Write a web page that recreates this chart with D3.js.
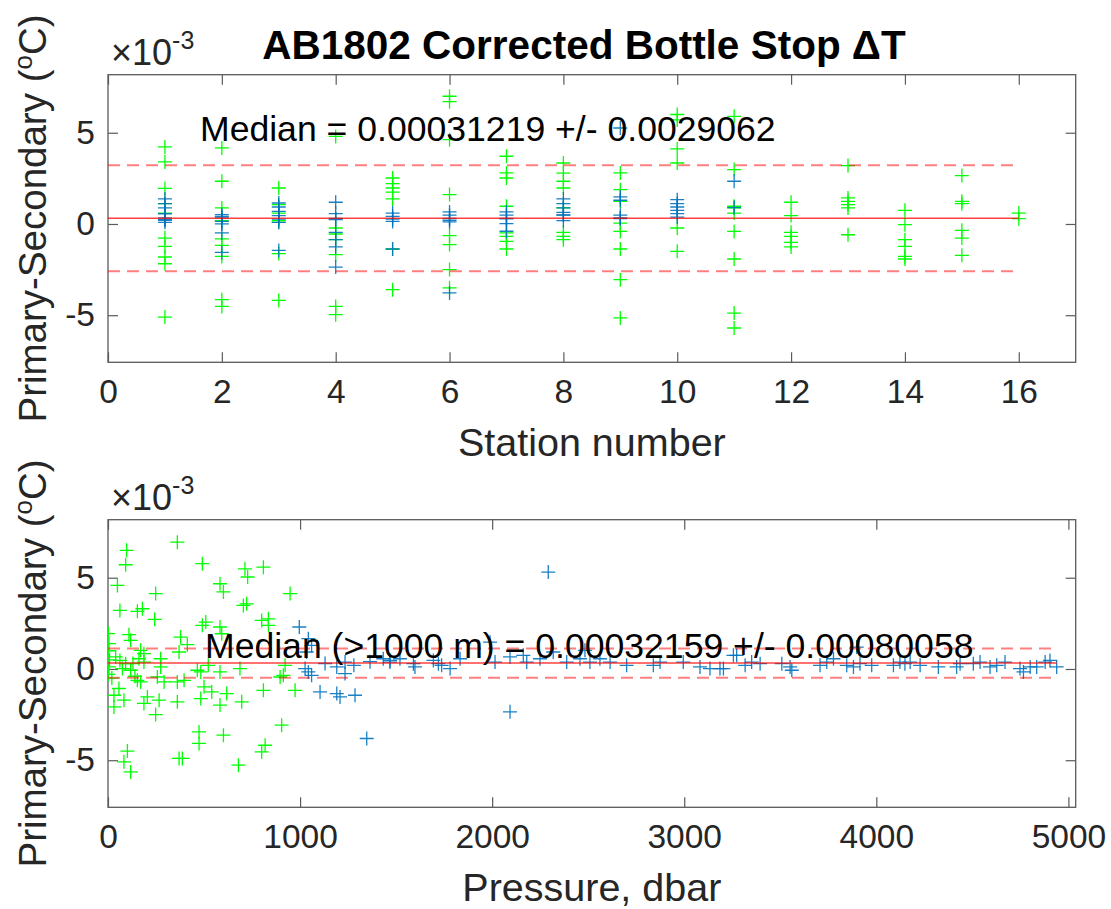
<!DOCTYPE html>
<html><head><meta charset="utf-8">
<script src="https://cdn.jsdelivr.net/npm/d3@7"></script>
<style>
body{margin:0;background:#fff}
text{font-family:"Liberation Sans",Arial,Helvetica,sans-serif;fill:#262626}
</style>
</head><body>
<svg id="c" width="1111" height="909"></svg>
<script>
// ---------------- DATA (temperature differences in units of 1e-3 °C) ----------------
const titleText = "AB1802 Corrected Bottle Stop \u0394T";
const stationTicks = [0, 2, 4, 6, 8, 10, 12, 14, 16];
const pressureTicks = [0, 1000, 2000, 3000, 4000, 5000];
const dTTicks = [-5, 0, 5];

// Top panel: shallow (<1000 dbar) bottles, [station, dT]
const stationShallow = [
  [1,4.22],[1,3.40],[1,1.95],[1,1.11],[1,0.60],[1,-0.77],[1,-1.23],[1,-1.81],[1,-2.18],[1,-5.10],
  [2,4.17],[2,2.34],[2,0.88],[2,0.18],[2,-0.82],[2,-1.17],[2,-1.78],[2,-4.15],[2,-4.52],
  [3,1.97],[3,1.06],[3,0.60],[3,0.18],[3,0.09],[3,-1.62],[3,-4.19],
  [4,4.80],[4,-0.22],[4,-0.55],[4,-0.86],[4,-1.68],[4,-4.52],[4,-4.97],
  [5,2.52],[5,2.21],[5,1.97],[5,1.75],[5,1.37],[5,-1.37],[5,-3.60],
  [6,7.00],[6,6.70],[6,4.62],[6,1.61],[6,-0.64],[6,-1.13],[6,-2.50],[6,-3.50],
  [7,3.71],[7,2.80],[7,2.52],[7,0.97],[7,-0.49],[7,-0.68],[7,-0.95],[7,-1.37],
  [8,3.34],[8,2.79],[8,2.34],[8,1.97],[8,0.88],[8,-0.46],[8,-0.68],[8,-0.86],
  [9,2.80],[9,1.88],[9,1.24],[9,0.05],[9,-0.41],[9,-1.37],[9,-3.05],[9,-5.15],
  [10,6.00],[10,5.70],[10,4.11],[10,3.34],[10,-0.22],[10,-1.50],
  [11,5.90],[11,2.98],[11,0.97],[11,0.88],[11,0.60],[11,-0.41],[11,-1.92],[11,-4.88],[11,-5.70],
  [12,1.19],[12,0.46],[12,-0.46],[12,-0.68],[12,-1.01],[12,-1.26],
  [13,3.20],[13,1.43],[13,1.24],[13,1.06],[13,0.88],[13,-0.59],
  [14,0.75],[14,-0.04],[14,-0.86],[14,-1.23],[14,-1.78],[14,-1.92],
  [15,2.65],[15,1.24],[15,1.11],[15,-0.35],[15,-0.77],[15,-1.72],
  [16,0.60],[16,0.29]
];
// Top panel: deep (>1000 dbar) bottles, [station, dT]
const stationDeep = [
  [1,1.37],[1,1.11],[1,0.88],[1,0.56],[1,0.33],[1,0.25],[1,0.20],[1,0.09],
  [2,0.51],[2,0.42],[2,0.33],[2,0.14],[2,0.00],[2,-0.49],[2,-1.56],
  [3,1.15],[3,0.93],[3,0.69],[3,0.46],[3,0.27],[3,0.09],[3,-1.45],
  [4,1.19],[4,0.57],[4,0.30],[4,0.24],[4,-0.46],[4,-0.86],[4,-1.26],[4,-2.36],
  [5,0.60],[5,0.42],[5,0.27],[5,0.14],[5,-1.37],
  [6,0.66],[6,0.48],[6,0.30],[6,0.20],[6,0.11],[6,-3.78],
  [7,0.66],[7,0.48],[7,0.30],[7,0.29],[7,0.02],[7,-0.40],
  [8,1.37],[8,1.11],[8,0.88],[8,0.64],[8,0.50],[8,0.48],[8,0.18],
  [9,5.26],[9,1.48],[9,1.30],[9,0.48],[9,0.33],[9,0.30],
  [10,1.33],[10,1.11],[10,0.93],[10,0.75],[10,0.57],[10,0.38],
  [11,2.34],[11,0.90]
];
// Bottom panel: shallow bottles, [pressure dbar, dT]
const pressureShallow = [
  [361,6.95],[97,6.50],[92,5.71],[491,5.77],[49,4.58],[248,4.13],[62,3.21],[153,3.16],[179,3.30],
  [243,2.72],[491,2.39],[509,2.57],[2,1.94],[109,1.88],[118,1.57],[5,1.39],[378,1.75],[413,1.33],
  [170,1.02],[187,0.84],[370,0.93],[40,0.66],[62,0.47],[92,0.29],[161,0.56],[187,0.38],[274,0.56],
  [274,0.11],[5,0.11],[75,0.02],[118,-0.07],[153,-0.62],[170,-0.71],[257,-0.44],[292,-0.71],
  [361,-0.71],[396,-0.62],[465,-0.07],[483,-0.16],[500,-0.98],[57,-1.07],[31,-1.44],[83,-1.71],
  [205,-1.53],[187,-1.89],[266,-1.71],[361,-1.80],[31,-2.08],[483,-1.62],[248,-2.50],[474,-3.45],
  [474,-4.08],[101,-4.50],[83,-5.09],[118,-5.64],[370,-4.90],[387,-4.90],
  [3,1.00],[8,0.50],[2,-0.30],[20,-0.50],[130,0.30],[140,-0.40],
  [713,5.49],[809,5.58],[727,5.04],[583,4.67],[601,4.22],[948,4.13],[705,3.48],[722,3.57],
  [800,2.66],[835,2.75],[835,2.39],[583,2.30],[592,1.93],[522,0.20],[583,-0.16],[687,0.02],
  [540,-1.26],[618,-1.35],[583,-1.98],[696,-1.80],[809,-1.17],[922,0.20],[913,-0.35],[896,-0.44],
  [974,-1.17],[904,-3.08],[601,-3.63],[818,-4.18],[800,-4.54],[679,-5.27]
];
// Bottom panel: deep bottles, [pressure dbar, dT]
const pressureDeep = [
  [996,2.30],[1043,1.66],[1060,1.29],[1026,0.02],[1043,-0.16],[1060,-0.35],[1034,0.93],
  [1104,-1.26],[1191,-1.35],[1208,-1.53],[1286,-1.44],[1347,-3.81],[1234,0.38],[1234,-0.25],
  [1191,0.11],[1364,0.40],[1433,0.56],[1468,0.47],[1130,0.30],[1280,0.20],
  [1468,0.38],[1520,0.56],[1590,0.29],[1598,0.11],[1694,0.47],[1720,0.29],[1737,0.20],[1781,0.02],
  [1833,0.56],[1989,1.47],[2015,0.38],[2093,0.66],[2162,0.75],[2180,0.38],[2249,0.56],[2318,0.93],
  [2388,0.38],[2457,0.56],[2483,1.02],[2509,0.38],[2561,0.56],[2614,0.38],[2700,0.20],[2839,0.20],
  [2874,0.38],[2995,0.38],[3082,0.11],[3134,0.02],[3186,0.02],[3273,0.75],
  [2292,5.31],[2093,-2.35],
  [3204,0.02],[3256,0.75],[3317,0.20],[3351,0.38],[3395,0.29],[3508,0.29],[3551,0.11],[3560,-0.07],
  [3707,0.20],[3742,0.38],[3777,0.56],[3846,0.20],[3881,0.11],[3898,1.20],[3915,0.29],[3976,0.20],
  [4089,0.20],[4123,0.38],[4149,0.29],[4176,0.38],[4228,0.20],[4323,0.11],[4418,0.11],[4436,0.29],
  [4505,0.29],[4540,0.38],[4592,0.11],[4627,0.20],[4670,0.38],[4748,0.02],[4766,-0.16],[4801,0.11],
  [4835,0.11],[4879,0.38],[4904,0.47],[4939,0.11]
];
// Statistics (°C)
const statsAll  = {median: 0.00031219, spread: 0.0029062, xEnd: 16};
const statsDeep = {median: 0.00032159, spread: 0.00080058, xEnd: 4939};
const labelsAll  = "Median = 0.00031219 +/- 0.0029062";
const labelsDeep = "Median (>1000 m) = 0.00032159 +/- 0.00080058";

// ---------------- DRAWING ----------------
const svg = d3.select("#c");
const GREEN = "#00ff00", BLUE = "#0072BD";
const axisColor = "#5a5a5a";
const yDomain = [-7.58, 8.18];

svg.append("text").attr("x", 584).attr("y", 59).attr("text-anchor", "middle")
  .style("font-weight", "bold").style("font-size", "40.5px").style("fill", "#000").text(titleText);

function panel(cfg) {
  const {left, right, top, bottom, xDomain, xTicks, xLabel, shallow, deep, stats, label, labelPos} = cfg;
  const x = d3.scaleLinear().domain(xDomain).range([left, right]);
  const y = d3.scaleLinear().domain(yDomain).range([bottom, top]);
  const g = svg.append("g");
  const fmt = d => String(d);

  const ax = (a, tr) => {
    const s = g.append("g").attr("transform", tr).call(a);
    s.select(".domain").remove();
    s.selectAll("line").attr("stroke", axisColor).attr("stroke-width", 1.2);
    s.selectAll("text").style("font-size", "33.5px").style("fill", "#262626")
      .style("font-family", '"Liberation Sans",Arial,sans-serif');
    return s;
  };
  ax(d3.axisBottom(x).tickValues(xTicks).tickSize(-10).tickSizeOuter(0).tickPadding(17).tickFormat(fmt), `translate(0,${bottom})`);
  ax(d3.axisTop(x).tickValues(xTicks).tickSize(-10).tickSizeOuter(0).tickFormat(""), `translate(0,${top})`);
  ax(d3.axisLeft(y).tickValues(dTTicks).tickSize(-10).tickSizeOuter(0).tickPadding(13).tickFormat(fmt), `translate(${left},0)`);
  ax(d3.axisRight(y).tickValues(dTTicks).tickSize(-10).tickSizeOuter(0).tickFormat(""), `translate(${right},0)`);

  g.append("rect").attr("x", left).attr("y", top).attr("width", right - left).attr("height", bottom - top)
    .attr("fill", "none").attr("stroke", axisColor).attr("stroke-width", 1.3);

  const plus = (d) => {
    const px = x(d[0]), py = y(d[1]);
    return `M${px-7},${py}H${px+7}M${px},${py-7}V${py+7}`;
  };
  const clip = "clip" + Math.round(top);
  svg.append("clipPath").attr("id", clip).append("rect")
    .attr("x", left).attr("y", top).attr("width", right - left).attr("height", bottom - top);
  const pg = g.append("g").attr("clip-path", `url(#${clip})`);
  pg.append("g").selectAll("path").data(shallow).join("path").attr("d", plus)
    .attr("stroke", GREEN).attr("stroke-width", 1.3).attr("fill", "none");
  pg.append("g").selectAll("path").data(deep).join("path").attr("d", plus)
    .attr("stroke", BLUE).attr("stroke-width", 1.3).attr("fill", "none").attr("stroke-opacity", 0.9);

  const m = stats.median * 1000, s = stats.spread * 1000;
  const hl = (v, dash, op, w) => pg.append("line").attr("x1", x(0)).attr("x2", x(stats.xEnd))
    .attr("y1", y(v)).attr("y2", y(v)).attr("stroke", "#ff0000").attr("stroke-opacity", op)
    .attr("stroke-width", w).attr("stroke-dasharray", dash);
  hl(m, null, 0.75, 1.5);
  hl(m + s, "12,7", 0.5, 2);
  hl(m - s, "12,7", 0.5, 2);

  g.append("text").attr("x", labelPos[0]).attr("y", labelPos[1])
    .style("font-size", "35.6px").style("fill", "#000").text(label);

  // x-axis label
  g.append("text").attr("x", (left + right) / 2).attr("y", bottom + 94).attr("text-anchor", "middle")
    .style("font-size", "39.5px").text(xLabel);
  // y-axis label
  const yl = g.append("text").attr("transform", `translate(46,${(top + bottom) / 2}) rotate(-90)`)
    .attr("text-anchor", "middle").style("font-size", "38.5px");
  yl.append("tspan").text("Primary-Secondary (");
  yl.append("tspan").attr("dy", -14).style("font-size", "26px").text("o");
  yl.append("tspan").attr("dy", 14).text("C)");
  // exponent
  const ex = g.append("text").attr("x", 111).attr("y", top - 10).style("font-size", "36px");
  ex.append("tspan").style("font-weight", "300").text("\u00d710");
  ex.append("tspan").attr("dy", -16).style("font-size", "25px").text("-3");
}

panel({left: 108, right: 1075.7, top: 74.7, bottom: 362.3, xDomain: [0, 17], xTicks: stationTicks,
  xLabel: "Station number", shallow: stationShallow, deep: stationDeep, stats: statsAll,
  label: labelsAll, labelPos: [200, 141]});
panel({left: 108, right: 1075.7, top: 519.7, bottom: 807.3, xDomain: [0, 5038], xTicks: pressureTicks,
  xLabel: "Pressure, dbar", shallow: pressureShallow, deep: pressureDeep, stats: statsDeep,
  label: labelsDeep, labelPos: [205, 658]});
</script>
</body></html>
